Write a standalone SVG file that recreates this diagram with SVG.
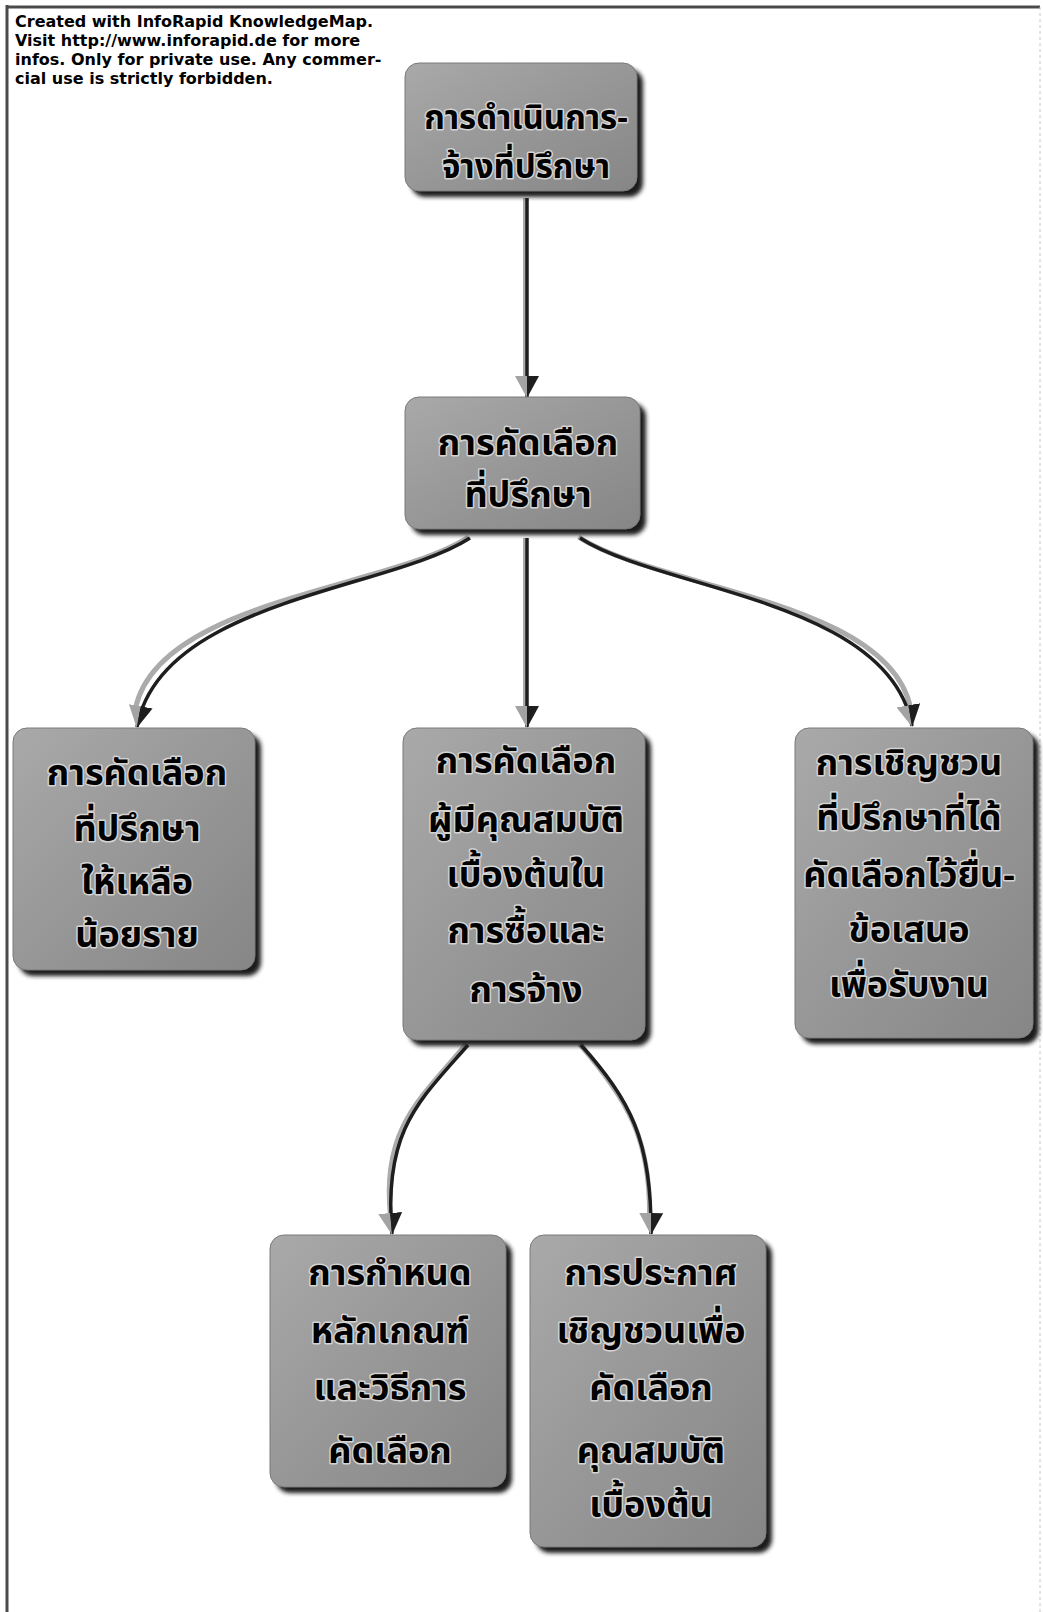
<svg xmlns="http://www.w3.org/2000/svg" width="1043" height="1612" viewBox="0 0 1043 1612">
  <style>
    .box { fill: url(#boxFill); stroke: #7a7a7a; stroke-width: 1; }
    .shadow { fill: #1c1c1c; filter: url(#soft); }
    .label { font-family: "Noto Sans Thai", "Noto Sans", "DejaVu Sans", sans-serif; font-weight: bold; font-size: 36px; fill: #000; stroke: #d4d4d4; stroke-width: 3; paint-order: stroke; stroke-linejoin: round; text-anchor: middle; }
    .label.small { font-size: 33px; }
    .note { font-family: "DejaVu Sans", Verdana, sans-serif; font-weight: bold; font-size: 16px; fill: #000; }
    .wire-under { fill: none; stroke: #ababab; stroke-width: 5; }
    .wire { fill: none; stroke: #1e1e1e; stroke-width: 3.5; marker-end: url(#head); }
    .frame { stroke: #4a4a4a; stroke-width: 3; }
  </style>
  <defs>
    <linearGradient id="boxFill" x1="0" y1="0" x2="1" y2="1">
      <stop offset="0" stop-color="#a9a9a9"/>
      <stop offset="0.5" stop-color="#979797"/>
      <stop offset="1" stop-color="#868686"/>
    </linearGradient>
    <filter id="soft" x="-10%" y="-10%" width="130%" height="130%">
      <feGaussianBlur stdDeviation="2"/>
    </filter>
    <!-- arrowhead drawn along +x; the upper half lands on the right-hand side of a downward wire -->
    <marker id="head" viewBox="0 0 22 24" refX="21" refY="12" markerWidth="22" markerHeight="24" markerUnits="userSpaceOnUse" orient="auto">
      <polygon points="0,12 22,12 0,24" fill="#a3a3a3"/>
      <polygon points="0,0 22,12 0,12" fill="#1e1e1e"/>
    </marker>
  </defs>

  <rect width="1043" height="1612" fill="#ffffff"/>

  <!-- page frame -->
  <g id="frame">
    <line class="frame" x1="7" y1="5" x2="7" y2="1612"/>
    <line class="frame" x1="6" y1="7" x2="1040" y2="7"/>
    <line x1="1040" y1="7" x2="1040" y2="1612" stroke="#c8c8c8" stroke-width="1" stroke-dasharray="3 3"/>
  </g>

  <!-- watermark -->
  <g id="watermark">
    <text class="note" x="15" y="27">Created with InfoRapid KnowledgeMap.</text>
    <text class="note" x="15" y="46">Visit http://www.inforapid.de for more</text>
    <text class="note" x="15" y="65">infos. Only for private use. Any commer-</text>
    <text class="note" x="15" y="84">cial use is strictly forbidden.</text>
  </g>

  <!-- connectors: a light under-stroke offset to the left, then the dark wire with its arrowhead -->
  <g id="connectors">
    <path class="wire-under" d="M525.5,198 L525.5,380"/>
    <path class="wire" d="M527,198 L527,397"/>

    <path class="wire-under" d="M468.5,537 C388.5,589 158.5,600 135.5,708"/>
    <path class="wire" d="M470,538 C390,590 160,600 137,727"/>

    <path class="wire-under" d="M525.5,538 L525.5,710"/>
    <path class="wire" d="M527,538 L527,727"/>

    <path class="wire-under" d="M578.5,537 C658.5,589 888.5,600 910.5,708"/>
    <path class="wire" d="M580,538 C660,590 890,600 912,726"/>

    <path class="wire-under" d="M466.5,1044 C418.5,1100 381.5,1130 390.5,1216"/>
    <path class="wire" d="M468,1045 C420,1100 383,1130 392,1234"/>

    <path class="wire-under" d="M579.5,1044 C628.5,1100 650.5,1140 649.5,1216"/>
    <path class="wire" d="M581,1045 C630,1100 652,1140 651,1234"/>
  </g>

  <!-- nodes -->
  <g id="node-consultant-hiring">
    <rect class="shadow" x="411" y="69" width="232" height="128" rx="14"/>
    <rect class="box" x="405" y="63" width="232" height="128" rx="14"/>
    <text class="label small" x="526" y="129">การดำเนินการ-</text>
    <text class="label small" x="526" y="178">จ้างที่ปรึกษา</text>
  </g>

  <g id="node-consultant-selection">
    <rect class="shadow" x="411" y="403" width="235" height="132" rx="14"/>
    <rect class="box" x="405" y="397" width="235" height="132" rx="14"/>
    <text class="label" x="528" y="455">การคัดเลือก</text>
    <text class="label" x="528" y="507">ที่ปรึกษา</text>
  </g>

  <g id="node-shortlist">
    <rect class="shadow" x="19" y="734" width="242" height="242" rx="14"/>
    <rect class="box" x="13" y="728" width="242" height="242" rx="14"/>
    <text class="label" x="137" y="785">การคัดเลือก</text>
    <text class="label" x="137" y="841">ที่ปรึกษา</text>
    <text class="label" x="137" y="894">ให้เหลือ</text>
    <text class="label" x="137" y="947">น้อยราย</text>
  </g>

  <g id="node-prequalification">
    <rect class="shadow" x="409" y="734" width="242" height="312" rx="14"/>
    <rect class="box" x="403" y="728" width="242" height="312" rx="14"/>
    <text class="label" x="526" y="773">การคัดเลือก</text>
    <text class="label" x="526" y="832">ผู้มีคุณสมบัติ</text>
    <text class="label" x="526" y="887">เบื้องต้นใน</text>
    <text class="label" x="526" y="943">การซื้อและ</text>
    <text class="label" x="526" y="1002">การจ้าง</text>
  </g>

  <g id="node-invitation">
    <rect class="shadow" x="801" y="734" width="238" height="310" rx="14"/>
    <rect class="box" x="795" y="728" width="238" height="310" rx="14"/>
    <text class="label" x="909" y="775">การเชิญชวน</text>
    <text class="label" x="909" y="830">ที่ปรึกษาที่ได้</text>
    <text class="label" x="909" y="887">คัดเลือกไว้ยื่น-</text>
    <text class="label" x="909" y="942">ข้อเสนอ</text>
    <text class="label" x="909" y="997">เพื่อรับงาน</text>
  </g>

  <g id="node-criteria">
    <rect class="shadow" x="276" y="1241" width="236" height="252" rx="14"/>
    <rect class="box" x="270" y="1235" width="236" height="252" rx="14"/>
    <text class="label" x="390" y="1285">การกำหนด</text>
    <text class="label" x="390" y="1343">หลักเกณฑ์</text>
    <text class="label" x="390" y="1400">และวิธีการ</text>
    <text class="label" x="390" y="1463">คัดเลือก</text>
  </g>

  <g id="node-announcement">
    <rect class="shadow" x="536" y="1241" width="236" height="312" rx="14"/>
    <rect class="box" x="530" y="1235" width="236" height="312" rx="14"/>
    <text class="label" x="651" y="1285">การประกาศ</text>
    <text class="label" x="651" y="1343">เชิญชวนเพื่อ</text>
    <text class="label" x="651" y="1400">คัดเลือก</text>
    <text class="label" x="651" y="1463">คุณสมบัติ</text>
    <text class="label" x="651" y="1517">เบื้องต้น</text>
  </g>
</svg>
